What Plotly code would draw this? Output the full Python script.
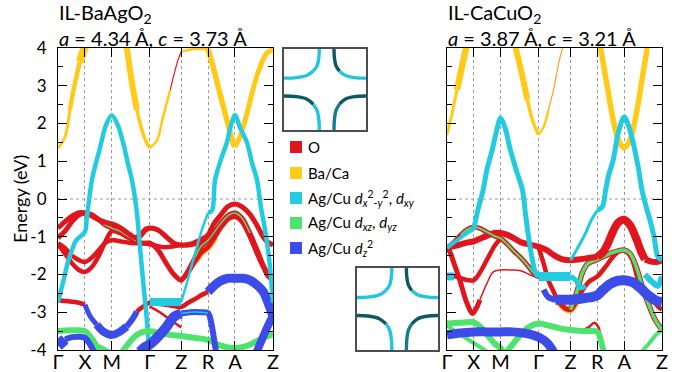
import numpy as np
import plotly.graph_objects as go

# ---------------- data ----------------
KLABELS = ['Γ', 'X', 'M', 'Γ', 'Z', 'R', 'A', 'Z']
A_LEFT, C_LEFT = 4.34, 3.73
A_RIGHT, C_RIGHT = 3.87, 3.21
E_TICKS = [-4, -3, -2, -1, 0, 1, 2, 3, 4]
E_TICKTEXT = ['-4', '-3', '-2', '-1', '0', '1', '2', '3', '4']
E_MINOR = [-3.5, -2.5, -1.5, -0.5, 0.5, 1.5, 2.5, 3.5]
TITLES_LEFT = ['IL-BaAgO<sub>2</sub>', '<i>a</i> = 4.34 Å, <i>c</i> = 3.73 Å']
TITLES_RIGHT = ['IL-CaCuO<sub>2</sub>', '<i>a</i> = 3.87 Å, <i>c</i> = 3.21 Å']
LEGEND_KEYS = ['O', 'Ba', 'dx', 'dxz', 'dz']
LEGEND_TEXT = ['O', 'Ba/Ca',
               'Ag/Cu <i>d</i><sub><i>x</i></sub><sup>2</sup><sub>-<i>y</i></sub><sup>2</sup>, <i>d</i><sub><i>xy</i></sub>',
               'Ag/Cu <i>d</i><sub><i>xz</i></sub>, <i>d</i><sub><i>yz</i></sub>',
               'Ag/Cu <i>d</i><sub><i>z</i></sub><sup>2</sup>']

# band points: P = position along path (0=Γ,1=X,2=M,3=Γ,4=Z,5=R,6=A,7=Z), E = energy (eV)
# ---- left panel: IL-BaAgO2 ----
L_Y1_P = [0, 0.26, 0.44, 0.63, 0.81, 1.0]
L_Y1_E = [1.35, 1.64, 2.36, 3.07, 3.63, 4.05]
L_Y2_P = [2.39, 2.53, 2.66, 2.79, 2.92, 3.0, 3.23, 3.42, 3.65, 3.87, 4.0, 4.52, 5.0, 5.19, 5.44, 5.7, 5.93, 6.0, 6.13, 6.32, 6.47, 6.66, 6.84, 7.0]
L_Y2_E = [4.05, 3.07, 2.36, 1.83, 1.48, 1.35, 1.56, 2.17, 2.89, 3.6, 3.9, 3.98, 3.97, 3.5, 2.8, 2.09, 1.48, 1.38, 1.64, 2.28, 2.89, 3.5, 3.87, 3.95]
L_C1_P = [0, 0.19, 0.37, 0.52, 0.67, 1.0, 1.07, 1.26, 1.41, 1.56, 1.78, 2.0, 2.16, 2.32, 2.42, 2.53, 2.66, 2.74, 2.82, 2.92, 3.0]
L_C1_E = [-2.73, -2.2, -1.67, -1.35, -1.1, -0.87, -0.5, 0.5, 0.95, 1.35, 1.95, 2.22, 1.95, 1.4, 0.95, 0.5, -0.37, -1.27, -2.15, -3.2, -4.3]
L_C2_P = [3.0, 3.32, 3.65, 4.0, 4.26, 4.52, 4.78, 5.0, 5.15, 5.26, 5.48, 5.7, 5.85, 6.0, 6.13, 6.32, 6.45, 6.58, 6.68, 6.79, 6.9, 7.0]
L_C2_E = [-2.73, -2.73, -2.73, -2.73, -2.1, -1.43, -0.8, -0.37, -0.3, 0.5, 1.05, 1.5, 1.95, 2.22, 1.9, 1.48, 0.95, 0.5, -0.2, -0.82, -1.6, -2.75]
L_O1_P = [0, 0.26, 0.52, 0.78, 1.0, 1.26, 1.52, 1.78, 2.0, 2.21, 2.42, 2.61, 2.76, 2.89, 3.0, 3.26, 3.52, 3.77, 4.0, 4.33, 4.67, 5.0, 5.22, 5.44, 5.74, 6.0, 6.18, 6.39, 6.58, 6.74, 6.87, 7.0]
L_O1_E = [-0.77, -0.6, -0.45, -0.36, -0.37, -0.45, -0.55, -0.62, -0.66, -0.75, -0.9, -1.02, -0.95, -0.8, -0.77, -0.82, -1.0, -1.17, -1.22, -1.2, -1.1, -0.95, -0.65, -0.45, -0.2, -0.13, -0.2, -0.4, -0.7, -1.0, -1.15, -1.22]
L_O2_P = [0, 0.26, 0.52, 0.78, 1.0, 1.26, 1.52, 1.78, 2.0, 2.21, 2.42, 2.63, 2.82, 3.0, 3.26, 3.52, 3.77, 4.0, 4.26, 4.52, 4.74, 5.0, 5.26, 5.52, 5.78, 6.0, 6.18, 6.39, 6.58, 6.74, 6.87, 7.0]
L_O2_E = [-1.03, -0.85, -0.6, -0.42, -0.37, -0.42, -0.55, -0.7, -0.77, -0.85, -0.98, -1.1, -1.17, -1.17, -1.35, -1.7, -2.0, -2.15, -1.9, -1.55, -1.25, -1.09, -0.85, -0.6, -0.42, -0.37, -0.5, -0.9, -1.35, -1.75, -2.0, -2.15]
L_O3_P = [0, 0.26, 0.52, 0.78, 1.0, 1.26, 1.52, 1.78, 2.0, 2.21, 2.42, 2.63, 2.82, 3.0, 3.26, 3.52, 3.77, 4.0, 4.33, 4.67, 5.0]
L_O3_E = [-1.17, -1.3, -1.5, -1.62, -1.67, -1.55, -1.35, -1.15, -1.09, -1.12, -1.15, -1.17, -1.18, -1.2, -1.25, -1.28, -1.25, -1.22, -1.22, -1.15, -1.0]
L_O4_P = [0, 0.26, 0.52, 0.78, 1.0, 1.26, 1.52, 1.78, 2.0, 2.21, 2.42, 2.61, 2.76, 2.89, 3.0]
L_O4_E = [-1.2, -1.45, -1.7, -1.88, -1.93, -1.8, -1.5, -1.1, -0.85, -0.9, -1.02, -1.08, -0.98, -0.83, -0.77]
L_O5_P = [0, 0.26, 0.52, 0.78, 1.0, 1.19, 1.44, 1.7, 2.0, 2.21, 2.39, 2.53, 2.66, 2.82, 3.0, 3.32, 3.65, 4.0, 4.26, 4.52, 4.74, 5.0, 5.22, 5.44, 5.74, 6.0, 6.21, 6.39, 6.58, 6.74, 6.87, 7.0]
L_O5_E = [-2.68, -2.7, -2.72, -2.75, -2.8, -3.1, -3.33, -3.52, -3.6, -3.52, -3.38, -3.2, -2.98, -2.85, -2.75, -2.78, -2.82, -2.86, -2.75, -2.65, -2.55, -2.46, -2.3, -2.18, -2.1, -2.1, -2.1, -2.15, -2.28, -2.45, -2.75, -3.1]
L_O6_P = [4.0, 4.26, 4.52, 4.74, 5.0, 5.26, 5.52, 5.78, 6.0, 6.18, 6.39, 6.58, 6.74, 6.87, 7.0]
L_O6_E = [-2.15, -1.95, -1.65, -1.42, -1.27, -1.0, -0.72, -0.52, -0.47, -0.6, -1.0, -1.45, -1.8, -2.05, -2.15]
L_O7_P = [3.0, 3.32, 3.65, 4.0]
L_O7_E = [-2.85, -3.0, -3.2, -3.4]
L_B1_P = [0, 0.26, 0.52, 0.78, 1.0, 1.19, 1.37]
L_B1_E = [-3.88, -3.72, -3.66, -3.65, -3.68, -3.85, -4.1]
L_B2_P = [2.74, 2.87, 3.0, 3.26, 3.52, 3.77, 4.0, 4.33, 4.7, 5.0, 5.11, 5.22, 5.33]
L_B2_E = [-4.05, -3.92, -3.85, -3.65, -3.4, -3.12, -3.03, -3.0, -3.0, -3.02, -3.25, -3.7, -4.2]
L_B3_P = [6.53, 6.71, 6.87, 7.0]
L_B3_E = [-4.15, -3.72, -3.35, -3.1]
L_G1_P = [0, 0.44, 1.0, 1.26, 1.48, 1.67]
L_G1_E = [-3.5, -3.48, -3.5, -3.7, -3.95, -4.15]
L_G2_P = [2.21, 2.42, 2.63, 2.82, 3.0, 3.32, 3.65, 4.0, 4.52, 5.0, 5.44, 6.0, 6.34, 6.66, 7.0]
L_G2_E = [-4.15, -3.85, -3.62, -3.52, -3.5, -3.55, -3.6, -3.63, -3.68, -3.73, -3.88, -3.95, -3.88, -3.72, -3.58]
L_G3_P = [1.0, 1.37, 1.74, 2.0]
L_G3_E = [-3.72, -3.85, -3.97, -4.1]

# ---- right panel: IL-CaCuO2 ----
R_Y1_P = [0, 0.19, 0.37, 0.56, 0.7, 0.81]
R_Y1_E = [1.7, 2.27, 2.89, 3.5, 3.95, 4.2]
R_Y2_P = [2.39, 2.58, 2.71, 2.84, 3.0, 3.16, 3.31, 3.47, 3.63, 3.78]
R_Y2_E = [4.05, 3.24, 2.63, 2.1, 1.7, 1.9, 2.36, 2.89, 3.6, 4.1]
R_Y3_P = [5.11, 5.37, 5.59, 5.78, 6.0, 6.16, 6.34, 6.47, 6.61]
R_Y3_E = [4.05, 2.97, 2.1, 1.57, 1.35, 1.57, 2.36, 3.15, 4.0]
R_C1_P = [0, 0.26, 0.48, 0.74, 1.0, 1.15, 1.35, 1.5, 1.69, 1.85, 2.0, 2.13, 2.26, 2.42, 2.58, 2.66, 2.74, 2.84, 2.92, 3.0]
R_C1_E = [-1.3, -1.15, -1.04, -0.9, -0.8, -0.3, 0.24, 0.8, 1.3, 1.8, 2.14, 1.85, 1.3, 0.75, 0.24, -0.4, -1.0, -1.6, -1.95, -2.05]
R_C2_P = [3.0, 3.31, 3.63, 4.0, 4.19, 4.37, 4.56]
R_C2_E = [-2.05, -2.05, -2.05, -2.05, -2.15, -2.35, -2.3]
R_C3_P = [4.0, 4.26, 4.56, 4.78, 5.0, 5.19, 5.3, 5.41, 5.59, 5.78, 6.0, 6.13, 6.24, 6.37, 6.47, 6.58, 6.68, 6.79, 6.89, 7.0]
R_C3_E = [-1.62, -1.3, -0.9, -0.55, -0.3, -0.2, 0.2, 0.6, 1.03, 1.75, 2.17, 1.9, 1.48, 0.85, 0.24, -0.2, -0.55, -1.0, -1.53, -1.62]
R_C4_P = [6.55, 6.74, 6.89, 7.0]
R_C4_E = [-2.0, -2.2, -2.3, -2.05]
R_O1_P = [0, 0.26, 0.52, 0.78, 1.0, 1.23, 1.5, 1.77, 2.0, 2.18, 2.37, 2.53, 2.71, 2.87, 3.0]
R_O1_E = [-1.3, -1.15, -0.95, -0.8, -0.74, -0.78, -0.88, -0.98, -1.04, -1.2, -1.4, -1.55, -1.75, -1.95, -2.05]
R_O2_P = [0, 0.26, 0.52, 0.78, 1.0, 1.23, 1.5, 1.77, 2.0, 2.18, 2.37, 2.55, 2.74, 3.0, 3.25, 3.5, 3.75, 4.0, 4.26, 4.52, 4.78, 5.0, 5.22, 5.41, 5.59, 5.78, 6.0, 6.16, 6.32, 6.45, 6.55, 6.74, 6.89, 7.0]
R_O2_E = [-1.3, -1.25, -1.2, -1.15, -1.12, -1.05, -0.97, -0.9, -0.9, -0.95, -1.05, -1.15, -1.2, -1.26, -1.35, -1.5, -1.6, -1.62, -1.6, -1.58, -1.55, -1.53, -1.4, -1.15, -0.85, -0.62, -0.55, -0.7, -1.05, -1.4, -1.6, -1.66, -1.66, -1.62]
R_O3_P = [0, 0.11, 0.22, 0.48, 0.74, 0.96, 1.23, 1.5, 1.73, 2.0, 2.26, 2.53, 2.76, 3.0]
R_O3_E = [-1.3, -1.4, -1.62, -2.15, -2.75, -3.03, -2.67, -2.22, -1.93, -1.88, -1.88, -1.9, -2.0, -2.1]
R_O4_P = [0, 0.26, 0.52, 0.78, 1.0, 1.23, 1.5, 1.77, 2.0]
R_O4_E = [-2.05, -2.05, -2.1, -2.15, -2.15, -1.95, -1.6, -1.25, -1.04]
R_O5_P = [3.0, 3.16, 3.31, 3.47, 3.59, 3.84, 4.0, 4.37, 4.67, 5.0, 5.3, 5.56, 5.78, 6.0, 6.21, 6.37, 6.55, 6.74, 6.89, 7.0]
R_O5_E = [-1.26, -1.7, -2.15, -2.45, -2.67, -2.9, -2.93, -2.5, -2.2, -2.05, -1.8, -1.55, -1.4, -1.35, -1.6, -2.15, -2.45, -2.6, -2.85, -2.93]
R_O6_P = [4.0, 4.26, 4.44, 4.63, 5.0, 5.3, 5.56, 6.0, 6.16, 6.32, 6.47, 6.63, 6.82, 7.0]
R_O6_E = [-2.93, -2.4, -1.95, -1.72, -1.6, -1.5, -1.42, -1.35, -1.45, -1.8, -2.3, -2.75, -3.2, -3.47]
R_O7_P = [4.37, 4.67, 4.89, 5.04, 5.15, 5.26]
R_O7_E = [-3.5, -3.4, -3.28, -3.4, -3.8, -4.2]
R_B1_P = [0, 0.48, 1.0, 1.5, 2.0, 2.32, 2.61, 2.84, 3.06, 3.28, 3.47]
R_B1_E = [-3.6, -3.55, -3.52, -3.52, -3.52, -3.52, -3.55, -3.6, -3.68, -3.82, -4.05]
R_B2_P = [3.16, 3.31, 3.53, 3.75, 4.0, 4.3, 4.56, 4.78, 5.0, 5.22, 5.48, 5.74, 6.0, 6.21, 6.42, 6.63, 6.82, 7.0]
R_B2_E = [-2.4, -2.6, -2.67, -2.67, -2.67, -2.65, -2.62, -2.6, -2.55, -2.4, -2.25, -2.17, -2.15, -2.2, -2.35, -2.55, -2.68, -2.73]
R_G1_P = [0, 0.48, 1.0, 1.27, 1.5, 1.77, 2.0, 2.1]
R_G1_E = [-3.3, -3.28, -3.27, -3.4, -3.6, -3.82, -3.95, -4.1]
R_G2_P = [2.13, 2.32, 2.53, 2.74, 3.0, 3.31, 3.63, 4.0, 4.48, 5.0, 5.11, 5.22, 5.33]
R_G2_E = [-4.1, -3.85, -3.6, -3.4, -3.3, -3.35, -3.42, -3.47, -3.5, -3.52, -3.7, -4.0, -4.2]
R_G3_P = [0, 0.3, 0.56, 0.85, 1.23, 1.62]
R_G3_E = [-3.35, -3.5, -3.62, -3.75, -3.92, -4.1]
R_G4_P = [6.42, 6.68, 6.84, 7.0]
R_G4_E = [-4.1, -3.8, -3.6, -3.47]

# Fermi-surface arc (one corner, normalised: U along edge, V along the other edge)
FS_U = [1.0, 0.99, 0.94, 0.83, 0.64, 0.36, 0.0]
FS_V = [0.0, 0.28, 0.57, 0.76, 0.91, 0.98, 1.0]
FS_REACH_X = {'left': 0.43, 'right': 0.39}
FS_REACH_Y = {'top': 0.36, 'bottom': 0.42}

# ---------------- style ----------------
COL = {'O': '#e0161f', 'Ba': '#ffca18', 'dx': '#22cbe0', 'dxz': '#50e26e',
       'dz': '#3c4ce8', 'or': '#ff9f1a'}
FS_CYAN, FS_DARK, FS_TEAL = '#22c6dc', '#0d5863', '#137f8c'
FONT = 'Lato'


def seg_lengths(a, c):
    h = 1.0 / (2 * a)
    lens = np.array([h, h, np.sqrt(2) * h, 1.0 / (2 * c), h, h, np.sqrt(2) * h])
    return lens, np.concatenate([[0.0], np.cumsum(lens)])


L_LENS, L_CUM = seg_lengths(A_LEFT, C_LEFT)
R_LENS, R_CUM = seg_lengths(A_RIGHT, C_RIGHT)


def kmap(P, lens, cum):
    P = np.asarray(P, dtype=float)
    s = np.minimum(np.floor(P).astype(int), 6)
    return cum[s] + (P - s) * lens[s]


fig = go.Figure()


def add_band(side, P, E, parts):
    lens, cum = (L_LENS, L_CUM) if side == 'L' else (R_LENS, R_CUM)
    xa, ya = ('x', 'y') if side == 'L' else ('x2', 'y2')
    X = kmap(P, lens, cum)
    E = np.asarray(E, dtype=float)
    for i0, i1, ck, w in parts:
        fig.add_trace(go.Scatter(
            x=X[i0:i1 + 1], y=E[i0:i1 + 1], mode='lines',
            line=dict(color=COL[ck], width=w, shape='spline', smoothing=0.9),
            xaxis=xa, yaxis=ya, hoverinfo='skip', showlegend=False))


# yellow
add_band('L', L_Y1_P, L_Y1_E, [(0, 2, 'Ba', 3), (2, 4, 'Ba', 4.5), (4, 5, 'Ba', 8)])
add_band('L', L_Y2_P, L_Y2_E, [(0, 2, 'Ba', 6), (2, 5, 'Ba', 3.5), (5, 8, 'Ba', 2.5), (8, 10, 'O', 1.2),
                               (10, 12, 'Ba', 2.5), (12, 17, 'Ba', 5.5), (17, 23, 'Ba', 5)])
add_band('R', R_Y1_P, R_Y1_E, [(0, 2, 'Ba', 3), (2, 5, 'Ba', 6.5)])
add_band('R', R_Y2_P, R_Y2_E, [(0, 2, 'Ba', 6), (2, 4, 'Ba', 3.5), (4, 6, 'Ba', 2.5), (6, 9, 'or', 1.2)])
add_band('R', R_Y3_P, R_Y3_E, [(0, 8, 'Ba', 5.5)])
# red (O)
add_band('L', L_O5_P, L_O5_E, [(0, 4, 'O', 4.5), (4, 6, 'dz', 5), (6, 10, 'dz', 8), (10, 12, 'dz', 6),
                               (12, 21, 'O', 4.5), (21, 31, 'dz', 9)])
add_band('L', L_O7_P, L_O7_E, [(0, 3, 'O', 2.5)])
add_band('L', L_O4_P, L_O4_E, [(0, 14, 'O', 4.5)])
add_band('L', L_O3_P, L_O3_E, [(0, 20, 'O', 4.5)])
add_band('L', L_O6_P, L_O6_E, [(2, 5, 'or', 7), (0, 14, 'O', 4.5)])
add_band('L', L_O2_P, L_O2_E, [(0, 31, 'O', 5), (4, 11, 'dxz', 1.5), (19, 27, 'dxz', 1.5)])
add_band('L', L_O1_P, L_O1_E, [(0, 31, 'O', 5)])
add_band('R', R_O7_P, R_O7_E, [(0, 5, 'O', 2.5)])
add_band('R', R_O3_P, R_O3_E, [(0, 6, 'O', 5), (6, 13, 'O', 1.5)])
add_band('R', R_O4_P, R_O4_E, [(0, 8, 'O', 4.5), (0, 1, 'dx', 8)])
add_band('R', R_O5_P, R_O5_E, [(4, 7, 'or', 7), (0, 19, 'O', 4.5)])
add_band('R', R_O6_P, R_O6_E, [(0, 13, 'O', 5.5), (0, 13, 'dxz', 3.5)])
add_band('R', R_O2_P, R_O2_E, [(0, 21, 'O', 6), (21, 30, 'O', 8), (30, 33, 'O', 6)])
add_band('R', R_O1_P, R_O1_E, [(0, 14, 'O', 5), (2, 14, 'dxz', 2)])
# cyan
add_band('L', L_C1_P, L_C1_E, [(0, 20, 'dx', 4.5)])
add_band('L', L_C2_P, L_C2_E, [(0, 3, 'dx', 8), (3, 7, 'dx', 2.5), (7, 21, 'dx', 4.5)])
add_band('R', R_C1_P, R_C1_E, [(0, 4, 'dx', 4), (4, 19, 'dx', 5)])
add_band('R', R_C2_P, R_C2_E, [(0, 3, 'dx', 9), (3, 6, 'dx', 5)])
add_band('R', R_C3_P, R_C3_E, [(0, 4, 'dx', 3), (4, 19, 'dx', 5)])
add_band('R', R_C4_P, R_C4_E, [(0, 3, 'dx', 6)])
# green
add_band('L', L_G1_P, L_G1_E, [(0, 5, 'dxz', 6)])
add_band('L', L_G2_P, L_G2_E, [(0, 14, 'dxz', 6)])
add_band('L', L_G3_P, L_G3_E, [(0, 3, 'dxz', 4)])
add_band('R', R_G1_P, R_G1_E, [(0, 7, 'dxz', 6)])
add_band('R', R_G2_P, R_G2_E, [(0, 12, 'dxz', 6)])
add_band('R', R_G3_P, R_G3_E, [(0, 5, 'dxz', 4)])
add_band('R', R_G4_P, R_G4_E, [(0, 3, 'dxz', 4)])
# blue
add_band('L', L_B1_P, L_B1_E, [(0, 1, 'dz', 11), (1, 6, 'dz', 6)])
add_band('L', L_B2_P, L_B2_E, [(0, 6, 'dz', 10), (6, 12, 'dz', 6), (6, 9, 'dx', 1.5)])
add_band('L', L_B3_P, L_B3_E, [(0, 3, 'dz', 8)])
add_band('R', R_B1_P, R_B1_E, [(0, 10, 'dz', 9)])
add_band('R', R_B2_P, R_B2_E, [(0, 2, 'dz', 6), (2, 17, 'dz', 10)])

# Fermi-surface insets
FS_CORNERS = [  # (cx, cy, horizontal side, vertical side, colour start, colour end)
    (0, 1, 'left', 'top', FS_CYAN, FS_CYAN),
    (1, 1, 'right', 'top', FS_DARK, FS_CYAN),
    (0, 0, 'left', 'bottom', FS_CYAN, FS_DARK),
    (1, 0, 'right', 'bottom', FS_TEAL, FS_DARK),
]
U = np.asarray(FS_U)
V = np.asarray(FS_V)
for xa, ya in (('x3', 'y3'), ('x4', 'y4')):
    for cx, cy, hs, vs, c1, c2 in FS_CORNERS:
        sx = 1 if cx == 0 else -1
        sy = 1 if cy == 0 else -1
        ax = cx + sx * FS_REACH_X[hs] * U
        ay = cy + sy * FS_REACH_Y[vs] * V
        for sl, col in ((slice(0, 4), c1), (slice(3, 7), c2)):
            fig.add_trace(go.Scatter(x=ax[sl], y=ay[sl], mode='lines',
                                     line=dict(color=col, width=3.4, shape='spline'),
                                     xaxis=xa, yaxis=ya, hoverinfo='skip', showlegend=False))

# ---------------- layout ----------------
W, H = 689, 372
L_DOM_X = [58 / W, 273 / W]
R_DOM_X = [447 / W, 662 / W]
DOM_Y = [1 - 350 / H, 1 - 48 / H]


def kaxis(dom, cum, anchor):
    return dict(domain=dom, range=[0, cum[-1]], tickmode='array', tickvals=list(cum), ticktext=KLABELS,
                ticks='inside', ticklen=9, tickwidth=1, tickcolor='black', mirror='ticks',
                showline=True, linecolor='black', linewidth=1.2, showgrid=True, gridcolor='#9a9a9a',
                griddash='dot', gridwidth=1, zeroline=False, tickfont=dict(size=20, family=FONT),
                ticklabelstandoff=-6, anchor=anchor, fixedrange=True, automargin=False)


def eaxis(dom, labels, anchor):
    return dict(domain=dom, range=[-4, 4], tickmode='array', tickvals=E_TICKS, ticktext=E_TICKTEXT,
                showticklabels=labels, ticks='inside', ticklen=9, tickwidth=1, tickcolor='black',
                mirror='ticks', showline=True, linecolor='black', linewidth=1.2, showgrid=False,
                zeroline=False, minor=dict(tickvals=E_MINOR, ticks='inside', ticklen=5, tickcolor='black'),
                tickfont=dict(size=17, family=FONT), ticklabelstandoff=7, anchor=anchor, fixedrange=True,
                automargin=False)


def inset(dom, anchor):
    return dict(domain=dom, range=[0, 1], showline=True, mirror=True, linecolor='#4d4d4d', linewidth=1.5,
                showticklabels=False, ticks='', showgrid=False, zeroline=False, anchor=anchor,
                fixedrange=True, automargin=False)


fig.update_layout(
    width=W, height=H, margin=dict(l=0, r=0, t=0, b=0, autoexpand=False),
    paper_bgcolor='white', plot_bgcolor='white', showlegend=False,
    font=dict(family=FONT, color='black'),
    xaxis=kaxis(L_DOM_X, L_CUM, 'y'), yaxis=eaxis(DOM_Y, True, 'x'),
    xaxis2=kaxis(R_DOM_X, R_CUM, 'y2'), yaxis2=eaxis(DOM_Y, False, 'x2'),
    xaxis3=inset([284 / W, 366 / W], 'y3'), yaxis3=inset([1 - 130 / H, 1 - 49 / H], 'x3'),
    xaxis4=inset([357 / W, 438 / W], 'y4'), yaxis4=inset([1 - 350 / H, 1 - 268 / H], 'x4'),
)

shapes = []
for xr, yr in (('x domain', 'y'), ('x2 domain', 'y2')):
    shapes.append(dict(type='line', xref=xr, yref=yr, x0=0, x1=1, y0=0, y1=0, layer='below',
                       line=dict(color='#9a9a9a', width=1, dash='dot')))
LEG_Y = [147, 173, 198, 223, 248]
for k, yc in zip(LEGEND_KEYS, LEG_Y):
    shapes.append(dict(type='rect', xref='paper', yref='paper', x0=290 / W, x1=302 / W,
                       y0=1 - (yc + 6) / H, y1=1 - (yc - 6) / H, fillcolor=COL[k], line=dict(width=0)))
fig.update_layout(shapes=shapes)

ann = []
for txt, yc in zip(LEGEND_TEXT, LEG_Y):
    ann.append(dict(text=txt, x=306 / W, y=1 - yc / H, xref='paper', yref='paper', xanchor='left',
                    yanchor='middle', showarrow=False, font=dict(size=15, family=FONT)))
for titles, x0 in ((TITLES_LEFT, 57), (TITLES_RIGHT, 446)):
    ann.append(dict(text=titles[0], x=x0 / W, y=1 - 14 / H, xref='paper', yref='paper', xanchor='left',
                    yanchor='middle', showarrow=False, font=dict(size=20, family=FONT)))
    ann.append(dict(text=titles[1], x=x0 / W, y=1 - 38 / H, xref='paper', yref='paper', xanchor='left',
                    yanchor='middle', showarrow=False, font=dict(size=20, family=FONT)))
ann.append(dict(text='Energy (eV)', x=20 / W, y=1 - 199 / H, xref='paper', yref='paper', textangle=-90,
                xanchor='center', yanchor='middle', showarrow=False, font=dict(size=18, family=FONT)))
fig.update_layout(annotations=ann)

fig.write_html('out.html', config={'displayModeBar': False},
               post_script="document.body.style.margin='0px';document.body.style.overflow='hidden';")
